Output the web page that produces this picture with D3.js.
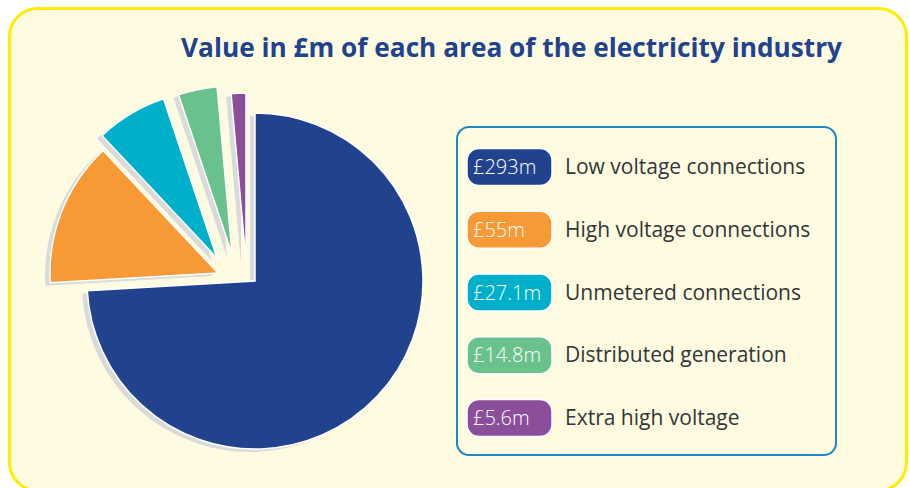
<!DOCTYPE html>
<html lang="en">
<head>
<meta charset="utf-8">
<title>Electricity industry value</title>
<script src="https://d3js.org/d3.v7.min.js"></script>
<style>
  body { margin: 0; background: #ffffff; }
  .title { font-family: "Open Sans", sans-serif; font-weight: 700; fill: #21438e; }
  .badge-text { font-family: "Open Sans", sans-serif; font-weight: 300; fill: #ffffff; font-size: 20px; }
  .label { font-family: "Open Sans", sans-serif; font-weight: 400; fill: #30363a; font-size: 21px; }
</style>
</head>
<body>
<div id="main"></div>
<script>
var width = 909, height = 488;

// data
var categories = ["Low voltage connections", "High voltage connections", "Unmetered connections", "Distributed generation", "Extra high voltage"];
var values = [293, 55, 27.1, 14.8, 5.6];
var valueLabels = ["£293m", "£55m", "£27.1m", "£14.8m", "£5.6m"];
var colors = ["#21438e", "#f79a35", "#00afc9", "#69c18b", "#8a4e9b"];

// how far each slice is pulled out of the pie (dx, dy)
var pullOut = [[0, 0], [-37, -8], [-38, -23], [-23, -27], [-9, -20]];

var svg = d3.select("#main").append("svg")
    .attr("width", width)
    .attr("height", height);

// panel
svg.append("rect")
    .attr("x", 9.5).attr("y", 8.5)
    .attr("width", 897).attr("height", 482)
    .attr("rx", 28)
    .attr("fill", "#fffbe0")
    .attr("stroke", "#ffec00")
    .attr("stroke-width", 3);

svg.append("text")
    .attr("class", "title")
    .attr("x", 181).attr("y", 57)
    .attr("font-size", 27)
    .attr("textLength", 661)
    .attr("lengthAdjust", "spacingAndGlyphs")
    .text("Value in £m of each area of the electricity industry");

// pie
var pie = d3.pie().sort(null).value(d => d);
var arc = d3.arc().innerRadius(0).outerRadius(168);
var slices = pie(values);

var pieG = svg.append("g").attr("transform", "translate(255,281)");

var sg = pieG.selectAll("g.slice")
    .data(slices)
    .enter().append("g")
    .attr("class", "slice")
    .attr("transform", (d, i) => "translate(" + pullOut[i][0] + "," + pullOut[i][1] + ")");

sg.append("path")
    .attr("d", arc)
    .attr("transform", "translate(-5,3)")
    .attr("fill", "#d9dadc");

sg.append("path")
    .attr("d", arc)
    .attr("fill", (d, i) => colors[i])
    .attr("stroke", "#ffffff")
    .attr("stroke-width", 1.5)
    .attr("stroke-linejoin", "miter");

// legend
svg.append("rect")
    .attr("x", 457).attr("y", 127)
    .attr("width", 379).attr("height", 328)
    .attr("rx", 12)
    .attr("fill", "none")
    .attr("stroke", "#1c87c7")
    .attr("stroke-width", 2);

var ly = d3.scalePoint().domain(categories).range([167, 418]);

var lg = svg.selectAll("g.item")
    .data(categories)
    .enter().append("g")
    .attr("class", "item")
    .attr("transform", d => "translate(0," + ly(d) + ")");

lg.append("rect")
    .attr("x", 467).attr("y", -18.5)
    .attr("width", 85).attr("height", 37)
    .attr("rx", 12)
    .attr("fill", (d, i) => colors[i])
    .attr("stroke", "#ffffff")
    .attr("stroke-width", 1.5);

lg.append("text")
    .attr("class", "badge-text")
    .attr("x", 473).attr("y", 7)
    .text((d, i) => valueLabels[i]);

lg.append("text")
    .attr("class", "label")
    .attr("x", 565).attr("y", 7)
    .text(d => d);
</script>
</body>
</html>
